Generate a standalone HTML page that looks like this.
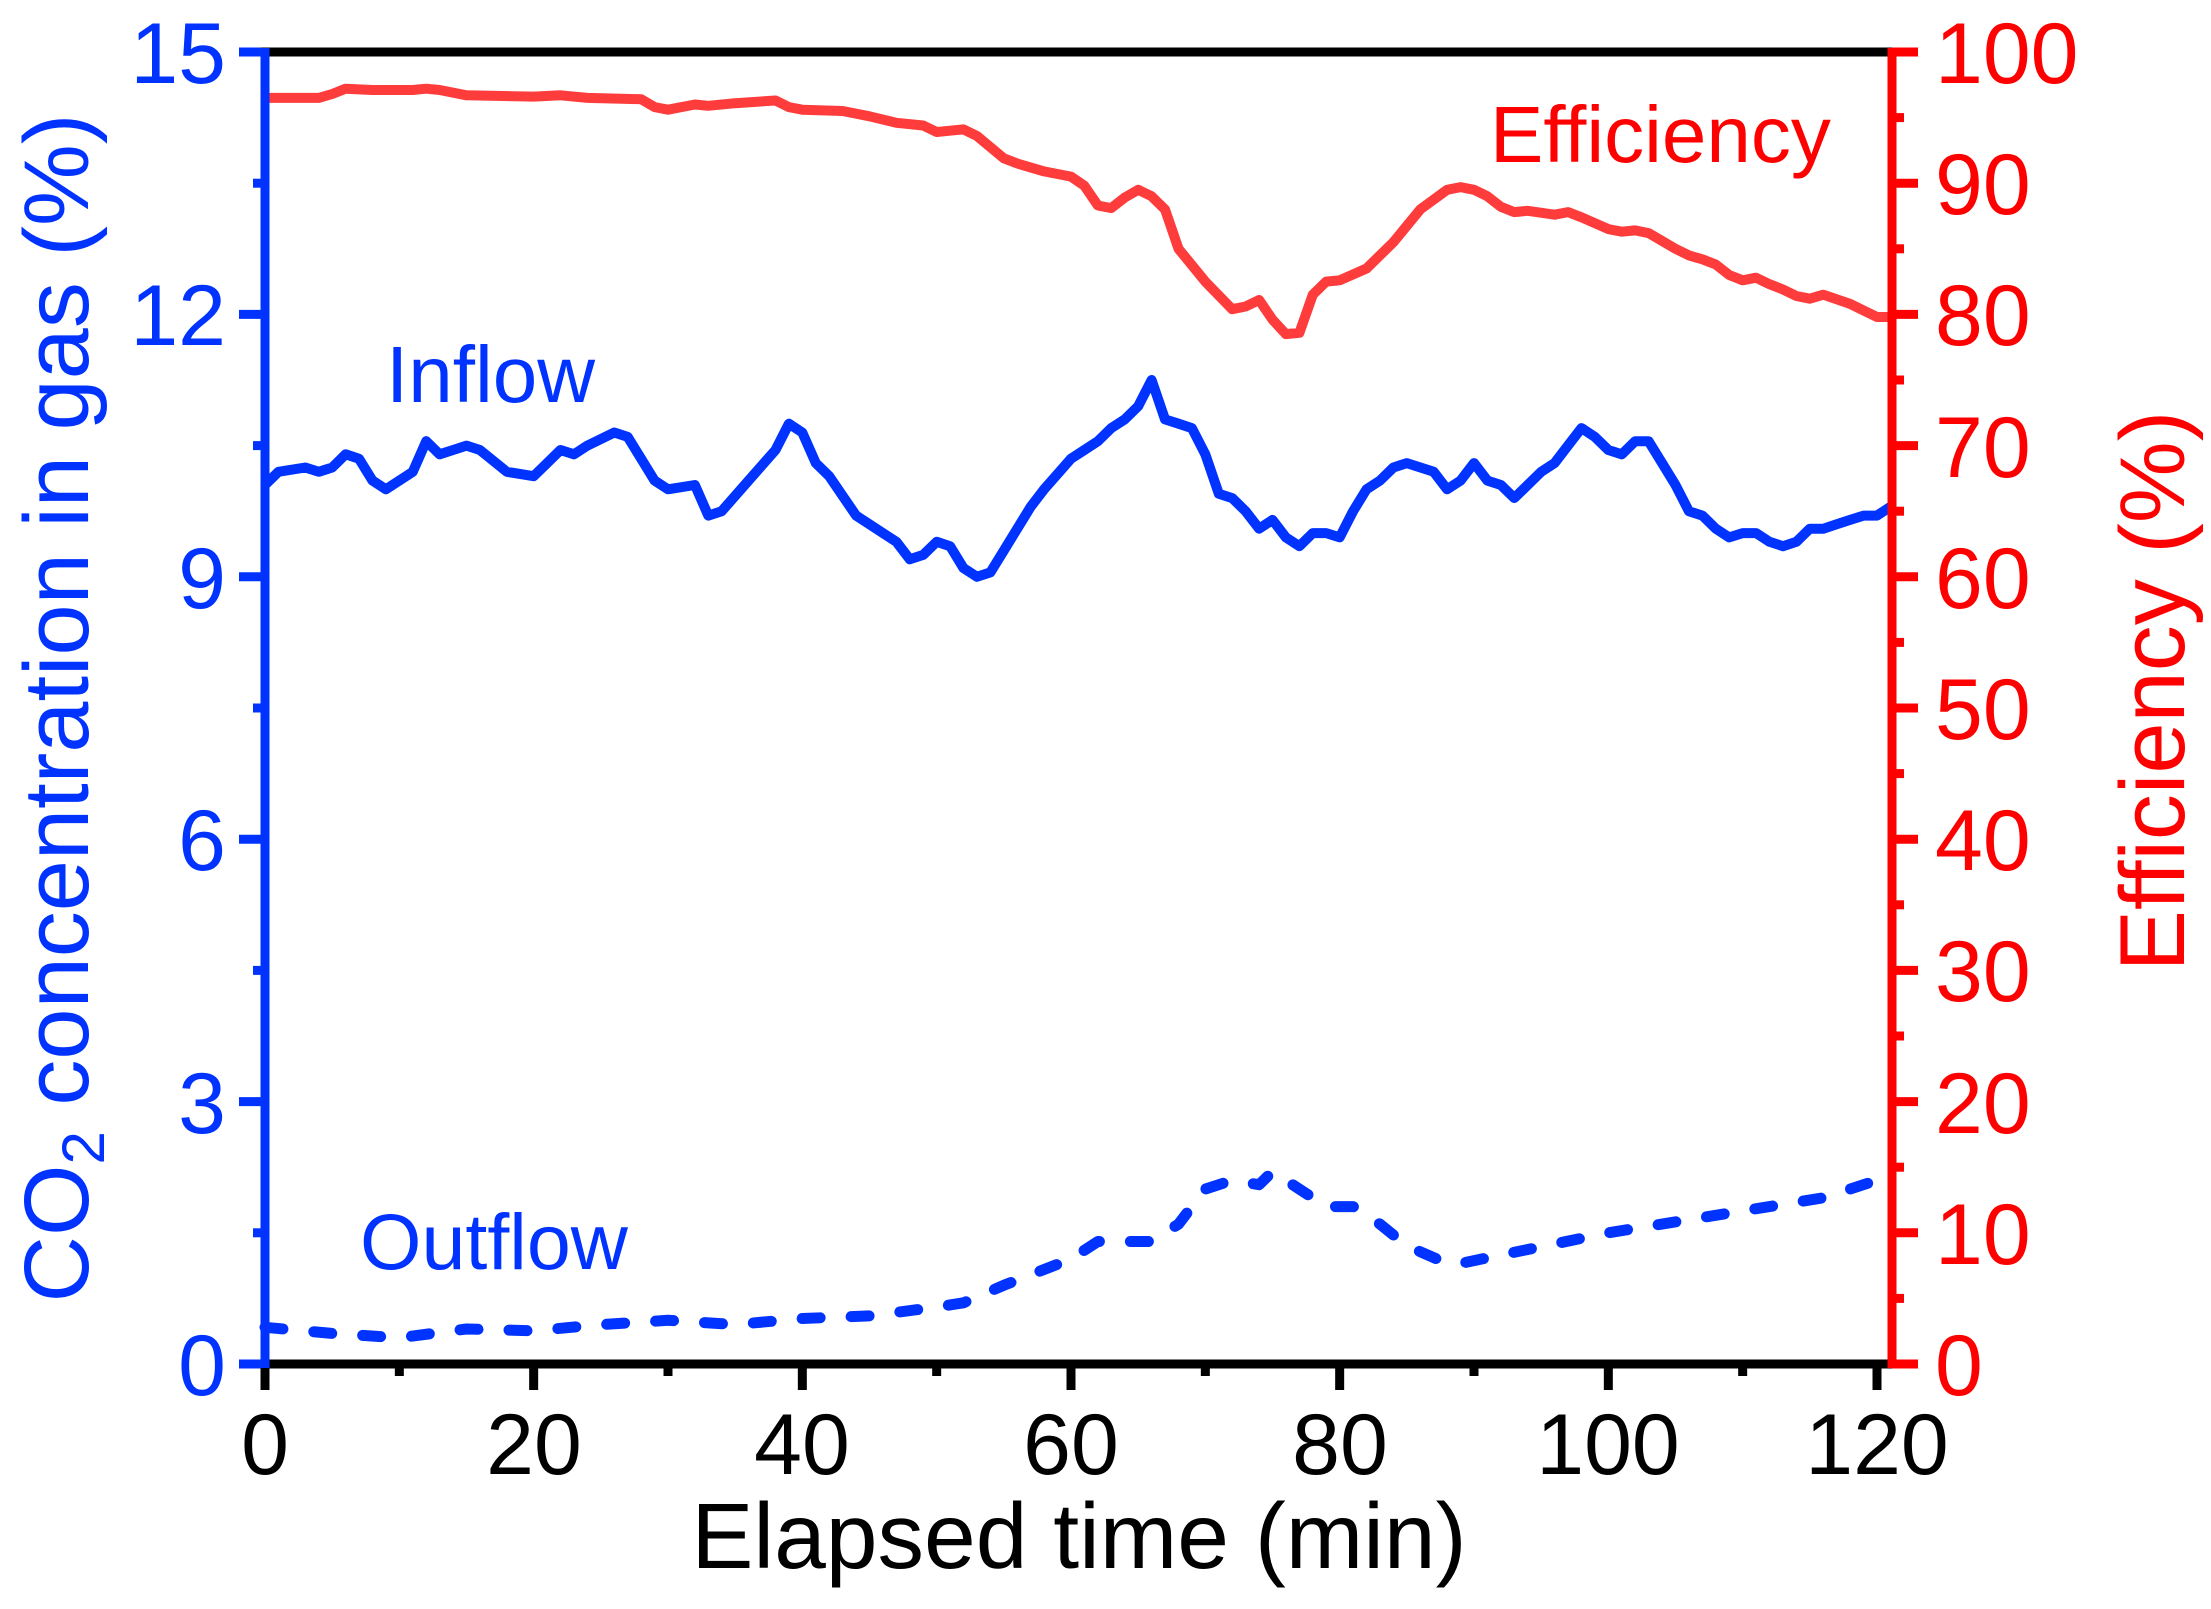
<!DOCTYPE html>
<html><head><meta charset="utf-8"><style>
html,body{margin:0;padding:0;background:#fff;}
svg{display:block;font-family:"Liberation Sans",Arial,sans-serif;}
</style></head><body>
<svg id="s" width="2211" height="1609" viewBox="0 0 2211 1609" xmlns="http://www.w3.org/2000/svg">
<g id="ticks"></g>
<path id="eff" fill="none" stroke="#ff3c3c" stroke-width="10" stroke-linejoin="round"/>
<path id="inf" fill="none" stroke="#0033ff" stroke-width="10" stroke-linejoin="round"/>
<path id="out" fill="none" stroke="#0033ff" stroke-width="11" stroke-linecap="round" stroke-linejoin="round" stroke-dasharray="18 31"/>
<line x1="261" y1="52" x2="1892" y2="52" stroke="#000" stroke-width="9"/>
<line x1="261" y1="1364" x2="1892" y2="1364" stroke="#000" stroke-width="9"/>
<line x1="265" y1="48" x2="265" y2="1368" stroke="#0033ff" stroke-width="9"/>
<line x1="1892" y1="48" x2="1892" y2="1368" stroke="#ff0000" stroke-width="9"/>
<g font-size="86" fill="#0033ff" text-anchor="end">
<text x="226" y="83">15</text><text x="226" y="345">12</text><text x="226" y="608">9</text>
<text x="226" y="870">6</text><text x="226" y="1133">3</text><text x="226" y="1395">0</text>
</g>
<g font-size="86" fill="#ff0000" text-anchor="start">
<text x="1935" y="83">100</text><text x="1935" y="214">90</text><text x="1935" y="345">80</text>
<text x="1935" y="477">70</text><text x="1935" y="608">60</text><text x="1935" y="739">50</text>
<text x="1935" y="870">40</text><text x="1935" y="1001">30</text><text x="1935" y="1133">20</text>
<text x="1935" y="1264">10</text><text x="1935" y="1395">0</text>
</g>
<g font-size="86" fill="#000" text-anchor="middle">
<text x="265" y="1474">0</text><text x="534" y="1474">20</text><text x="802" y="1474">40</text>
<text x="1071" y="1474">60</text><text x="1340" y="1474">80</text><text x="1608" y="1474">100</text>
<text x="1877" y="1474">120</text>
</g>
<text x="1079" y="1568" font-size="93" text-anchor="middle" fill="#000">Elapsed time (min)</text>
<text transform="translate(88,708) rotate(-90)" font-size="92" text-anchor="middle" fill="#0033ff">CO<tspan font-size="60" dy="16">2</tspan><tspan dy="-16"> concentration in gas (%)</tspan></text>
<text transform="translate(2184,691) rotate(-90)" font-size="92" text-anchor="middle" fill="#ff0000">Efficiency (%)</text>
<text x="1490" y="162" font-size="80" fill="#ff0000">Efficiency</text>
<text x="386" y="402" font-size="80" fill="#0033ff">Inflow</text>
<text x="360" y="1269" font-size="79" fill="#0033ff">Outflow</text>
</svg>
<script>
var X0=265,PX=(1877-265)/120,Y0=1364,PY=(1364-52)/15,PE=(1364-52)/100;
function fx(t){return X0+t*PX;}
function path(d,fy){return d.map(function(p,i){return (i?'L':'M')+fx(p[0]).toFixed(1)+' '+fy(p[1]).toFixed(1);}).join(' ');}
var inf=[[0,10.05],[1,10.2],[3,10.25],[4,10.2],[5,10.25],[6,10.4],[7,10.35],[8,10.1],[9,10.0],[11,10.2],[12,10.55],[13,10.4],[14,10.45],[15,10.5],[16,10.45],[18,10.2],[20,10.15],[22,10.45],[23,10.4],[24,10.5],[26,10.65],[27,10.6],[29,10.1],[30,10.0],[32,10.05],[33,9.7],[34,9.75],[36,10.1],[38,10.45],[39,10.75],[40,10.65],[41,10.3],[42,10.15],[44,9.7],[46,9.5],[47,9.4],[48,9.2],[49,9.25],[50,9.4],[51,9.35],[52,9.1],[53,9.0],[54,9.05],[55,9.3],[57,9.8],[58,10.0],[60,10.35],[61,10.45],[62,10.55],[63,10.7],[64,10.8],[65,10.95],[66,11.25],[67,10.8],[68,10.75],[69,10.7],[70,10.4],[71,9.95],[72,9.9],[73,9.75],[74,9.55],[75,9.65],[76,9.45],[77,9.35],[78,9.5],[79,9.5],[80,9.45],[81,9.75],[82,10.0],[83,10.1],[84,10.25],[85,10.3],[87,10.2],[88,10.0],[89,10.1],[90,10.3],[91,10.1],[92,10.05],[93,9.9],[94,10.05],[95,10.2],[96,10.3],[97,10.5],[98,10.7],[99,10.6],[100,10.45],[101,10.4],[102,10.55],[103,10.55],[104,10.3],[105,10.05],[106,9.75],[107,9.7],[108,9.55],[109,9.45],[110,9.5],[111,9.5],[112,9.4],[113,9.35],[114,9.4],[115,9.55],[116,9.55],[117,9.6],[118,9.65],[119,9.7],[120,9.7],[121,9.8]];
var eff=[[0,96.5],[4,96.5],[5,96.8],[6,97.2],[8,97.1],[11,97.1],[12,97.2],[13,97.1],[15,96.7],[20,96.6],[22,96.7],[24,96.5],[28,96.4],[29,95.8],[30,95.6],[32,96.0],[33,95.9],[35,96.1],[38,96.3],[39,95.8],[40,95.6],[43,95.5],[45,95.1],[47,94.6],[49,94.4],[50,93.9],[51,94.0],[52,94.1],[53,93.6],[55,91.9],[56,91.5],[58,90.9],[60,90.5],[61,89.8],[62,88.3],[63,88.1],[64,88.9],[65,89.5],[66,89.0],[67,88.0],[68,85.0],[70,82.5],[72,80.4],[73,80.6],[74,81.1],[75,79.6],[76,78.5],[77,78.6],[78,81.5],[79,82.5],[80,82.6],[82,83.5],[84,85.5],[86,88.0],[88,89.5],[89,89.7],[90,89.5],[91,89.0],[92,88.2],[93,87.8],[94,87.9],[96,87.6],[97,87.8],[98,87.4],[100,86.5],[101,86.3],[102,86.4],[103,86.2],[105,85.0],[106,84.5],[107,84.2],[108,83.8],[109,83.0],[110,82.6],[111,82.8],[112,82.3],[113,81.9],[114,81.4],[115,81.2],[116,81.5],[118,80.8],[119,80.3],[120,79.8],[121,79.8]];
var out=[[0,0.42],[5,0.35],[10,0.3],[15,0.4],[20,0.38],[25,0.45],[30,0.5],[35,0.45],[40,0.52],[45,0.55],[50,0.65],[52,0.7],[55,0.9],[60,1.2],[62,1.4],[66,1.4],[68,1.6],[70,2.0],[72,2.1],[74,2.05],[75,2.2],[77,2.0],[79,1.8],[81,1.8],[83,1.6],[85,1.35],[88,1.15],[89,1.15],[100,1.5],[110,1.75],[116,1.9],[121,2.15]];
function fy(v){return Y0-v*PY;} function fe(v){return Y0-v*PE;}
document.getElementById('inf').setAttribute('d',path(inf,fy));
document.getElementById('eff').setAttribute('d',path(eff,fe));
document.getElementById('out').setAttribute('d',path(out,fy));
var g=document.getElementById('ticks'),h='';
function ln(a,b,c,d,col){h+='<line x1="'+a+'" y1="'+b+'" x2="'+c+'" y2="'+d+'" stroke="'+col+'" stroke-width="9"/>';}
for(var i=0;i<=10;i++){var y=fy(i*1.5);ln(265,y,i%2?253:239,y,'#0033ff');}
for(var i=0;i<=20;i++){var y=fe(i*5);ln(1892,y,i%2?1904:1918,y,'#ff0000');}
for(var i=0;i<=12;i++){var x=fx(i*10);ln(x,1364,x,i%2?1376:1390,'#000');}
g.innerHTML=h;
</script>
</body></html>
